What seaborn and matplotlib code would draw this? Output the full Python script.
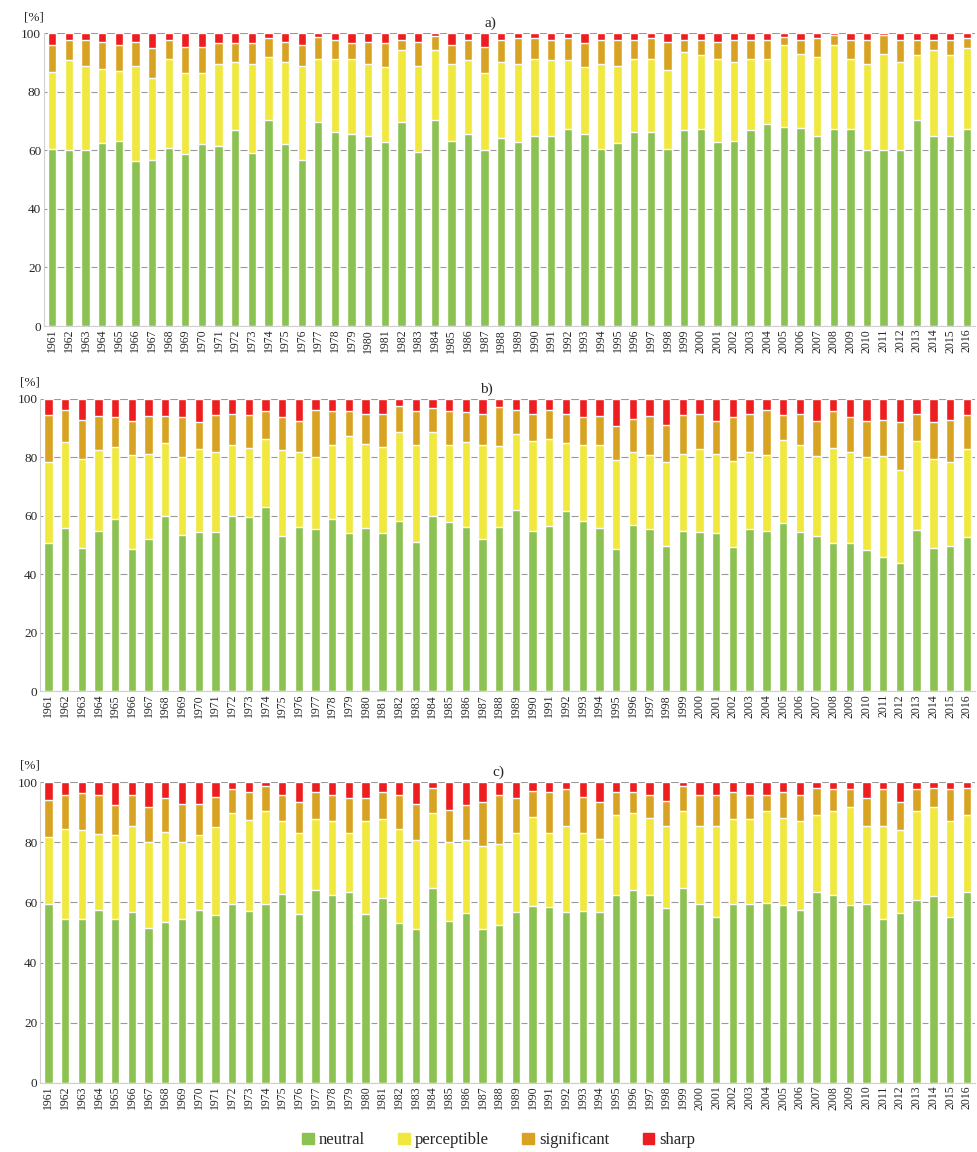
import numpy as np
import pandas as pd
import seaborn as sns
import matplotlib.pyplot as plt

years = [str(y) for y in range(1961, 2017)]
categories = ['neutral', 'perceptible', 'significant', 'sharp']
colors = ['#8cc251', '#f0e83c', '#d8a322', '#ee1d1f']

# panel a)
a_neutral = [60.6, 60.0, 60.0, 62.5, 63.4, 56.3, 56.6, 60.8, 58.9, 62.3, 61.5, 66.9, 59.0, 70.3,
             62.3, 56.6, 69.7, 66.3, 65.7, 65.1, 62.9, 69.7, 59.4, 70.3, 63.4, 65.7, 60.0, 64.3,
             62.9, 65.1, 65.1, 67.2, 65.7, 60.6, 62.5, 66.3, 66.3, 60.6, 67.0, 67.4, 62.9, 63.4,
             67.0, 69.1, 68.0, 67.7, 65.1, 67.4, 67.4, 60.0, 60.0, 60.0, 70.3, 64.8, 64.8, 67.4]
a_perceptible = [26.3, 31.0, 29.0, 25.5, 23.8, 32.5, 28.0, 30.6, 27.4, 24.0, 28.2, 23.4, 30.7, 21.7,
                 28.0, 32.4, 21.7, 25.1, 25.7, 24.6, 25.7, 24.6, 29.6, 24.0, 26.3, 25.2, 26.3, 26.0,
                 26.8, 26.3, 25.8, 23.7, 22.9, 29.1, 26.5, 25.1, 25.1, 26.8, 26.7, 25.2, 28.5, 26.9,
                 24.4, 22.3, 28.0, 25.4, 26.9, 28.6, 24.0, 29.7, 33.1, 30.3, 22.3, 29.5, 27.8, 27.5]
a_significant = [9.1, 6.7, 8.7, 9.0, 8.8, 8.2, 10.3, 6.3, 9.1, 9.1, 6.9, 6.3, 6.9, 6.3,
                 6.7, 7.0, 7.5, 6.3, 5.2, 7.3, 8.0, 3.4, 8.0, 4.7, 6.3, 6.8, 9.1, 7.4,
                 8.6, 6.9, 6.8, 7.4, 8.2, 8.0, 8.7, 6.3, 6.9, 9.6, 4.0, 5.1, 5.6, 7.4,
                 6.3, 6.3, 2.9, 4.6, 6.3, 3.4, 6.3, 8.0, 6.3, 7.4, 5.3, 3.6, 5.1, 3.4]
a_sharp = [4.0, 2.3, 2.3, 3.0, 4.0, 3.0, 5.1, 2.3, 4.6, 4.6, 3.4, 3.4, 3.4, 1.7,
           3.0, 4.0, 1.1, 2.3, 3.4, 3.0, 3.4, 2.3, 3.0, 1.0, 4.0, 2.3, 4.6, 2.3,
           1.7, 1.7, 2.3, 1.7, 3.2, 2.3, 2.3, 2.3, 1.7, 3.0, 2.3, 2.3, 3.0, 2.3,
           2.3, 2.3, 1.1, 2.3, 1.7, 0.6, 2.3, 2.3, 0.6, 2.3, 2.1, 2.1, 2.3, 1.7]

# panel b)
b_neutral = [50.7, 55.9, 48.8, 54.9, 58.9, 48.6, 51.9, 59.9, 53.4, 54.3, 54.3, 59.9, 59.7, 62.9,
             53.0, 56.0, 55.4, 58.9, 53.9, 55.7, 54.2, 58.2, 50.9, 59.9, 57.8, 56.0, 51.9, 56.0,
             61.9, 54.7, 56.5, 61.6, 58.2, 55.7, 48.5, 56.8, 55.3, 49.6, 54.7, 54.5, 54.2, 49.4,
             55.3, 54.9, 57.5, 54.5, 53.0, 50.7, 50.7, 48.2, 45.7, 43.7, 55.1, 48.8, 49.6, 52.8]
b_perceptible = [27.5, 29.1, 30.7, 27.4, 24.5, 32.2, 29.2, 24.9, 26.5, 28.4, 27.6, 24.3, 23.3, 23.4,
                 29.3, 25.6, 24.8, 25.2, 33.2, 28.9, 29.1, 30.3, 33.2, 28.8, 26.3, 29.0, 32.2, 27.7,
                 26.1, 30.9, 29.8, 23.1, 25.9, 28.4, 30.6, 25.0, 25.5, 28.8, 26.4, 28.4, 26.9, 29.3,
                 26.4, 25.9, 28.4, 29.6, 27.5, 32.4, 31.2, 31.8, 34.8, 32.0, 30.3, 30.5, 28.8, 30.1]
b_significant = [16.3, 11.2, 13.3, 11.9, 10.2, 11.4, 13.1, 9.4, 13.7, 9.3, 12.6, 10.7, 11.5, 9.4,
                 11.3, 10.6, 16.0, 11.6, 8.6, 10.1, 11.4, 8.9, 11.6, 8.1, 11.8, 10.3, 10.8, 13.3,
                 8.2, 9.3, 9.9, 10.2, 9.5, 9.8, 11.4, 11.2, 13.4, 12.7, 13.4, 12.0, 11.1, 14.9,
                 13.2, 15.2, 8.6, 10.6, 11.7, 12.6, 11.7, 12.2, 12.3, 16.3, 9.5, 12.7, 14.2, 11.6]
b_sharp = [5.5, 3.8, 7.2, 5.8, 6.4, 7.8, 5.8, 5.8, 6.4, 8.0, 5.5, 5.1, 5.5, 4.3,
           6.4, 7.8, 3.8, 4.3, 4.3, 5.3, 5.3, 2.6, 4.3, 3.2, 4.1, 4.7, 5.1, 3.0,
           3.8, 5.1, 3.8, 5.1, 6.4, 6.1, 9.5, 7.0, 5.8, 8.9, 5.5, 5.1, 7.8, 6.4,
           5.1, 4.0, 5.5, 5.3, 7.8, 4.3, 6.4, 7.8, 7.2, 8.0, 5.1, 8.0, 7.4, 5.5]

# panel c)
c_neutral = [59.4, 54.5, 54.5, 57.5, 54.5, 56.8, 51.5, 53.5, 54.5, 57.5, 55.8, 59.4, 57.1, 59.4,
             62.8, 56.1, 64.1, 62.4, 63.4, 56.1, 61.4, 53.1, 51.2, 64.8, 53.8, 56.5, 51.2, 52.5,
             56.8, 58.8, 58.5, 56.8, 57.1, 56.8, 62.4, 64.1, 62.4, 58.1, 64.8, 59.4, 55.1, 59.4,
             59.4, 59.8, 59.1, 57.5, 63.4, 62.4, 59.1, 59.4, 54.5, 56.5, 60.8, 62.1, 55.1, 63.4]
c_perceptible = [22.4, 29.8, 29.5, 25.2, 27.8, 28.8, 28.5, 30.1, 25.5, 24.8, 29.2, 30.2, 30.2, 30.9,
                 24.2, 26.9, 23.5, 24.6, 19.6, 30.9, 26.2, 31.5, 29.5, 25.1, 26.2, 24.2, 27.5, 26.8,
                 26.2, 29.5, 24.5, 28.5, 25.9, 24.2, 26.6, 25.5, 25.6, 27.5, 25.5, 26.2, 30.5, 28.2,
                 28.2, 30.5, 28.9, 29.5, 25.6, 27.9, 32.5, 26.2, 31.1, 27.5, 29.5, 29.5, 31.9, 25.6]
c_significant = [12.3, 11.6, 12.4, 12.9, 10.0, 10.3, 11.9, 11.0, 12.6, 10.3, 10.2, 8.0, 9.3, 8.3,
                 8.9, 10.3, 9.0, 8.9, 11.6, 7.6, 9.3, 11.0, 11.9, 8.3, 10.9, 11.6, 14.7, 16.3,
                 11.6, 8.9, 13.6, 12.3, 12.2, 12.4, 7.9, 7.3, 7.9, 8.3, 8.6, 10.0, 10.3, 9.0,
                 8.3, 5.6, 8.6, 8.6, 9.2, 7.3, 6.0, 9.0, 12.3, 9.3, 7.6, 6.6, 10.9, 9.2]
c_sharp = [5.9, 4.1, 3.6, 4.4, 7.7, 4.1, 8.1, 5.4, 7.4, 7.4, 4.8, 2.4, 3.4, 1.4,
           4.1, 6.7, 3.4, 4.1, 5.4, 5.4, 3.1, 4.4, 7.4, 1.8, 9.1, 7.7, 6.6, 4.4,
           5.4, 2.8, 3.4, 2.4, 4.8, 6.6, 3.1, 3.1, 4.1, 6.1, 1.1, 4.4, 4.1, 3.4,
           4.1, 4.1, 3.4, 4.4, 1.8, 2.4, 2.4, 5.4, 2.1, 6.7, 2.1, 1.8, 2.1, 1.8]

panels = [
    ('a)', [a_neutral, a_perceptible, a_significant, a_sharp], [0.045, 0.717, 0.952, 0.254], 0.479),
    ('b)', [b_neutral, b_perceptible, b_significant, b_sharp], [0.041, 0.400, 0.956, 0.254], 0.477),
    ('c)', [c_neutral, c_perceptible, c_significant, c_sharp], [0.041, 0.060, 0.956, 0.261], 0.490),
]

sns.set_style('white')
plt.rcParams['font.family'] = ['Liberation Serif', 'DejaVu Serif']

fig = plt.figure(figsize=(9.78, 11.52), dpi=100)

for title, series, rect, title_x in panels:
    ax = fig.add_axes(rect)
    df = pd.DataFrame({'year': years})
    cum = np.cumsum(np.array(series), axis=0)
    # draw from the top of the stack downwards so each segment shows
    for i in range(3, -1, -1):
        df['top'] = cum[i]
        sns.barplot(data=df, x='year', y='top', color=colors[i], width=0.5,
                    saturation=1, ax=ax, zorder=3, label=categories[i])
    ax.set_ylim(0, 100)
    ax.set_xlim(-0.5, len(years) - 0.5)
    ax.set_yticks([0, 20, 40, 60, 80, 100])
    ax.yaxis.grid(True, color='#9a9a9a', linewidth=0.8, zorder=0)
    ax.set_xlabel('')
    ax.set_ylabel('')
    ax.tick_params(axis='x', labelrotation=90, labelsize=8.5, pad=2, length=0)
    ax.tick_params(axis='y', labelsize=9.5, pad=2, length=0)
    for s in ['top', 'right']:
        ax.spines[s].set_visible(False)
    ax.spines['left'].set_color('#d0d0d0')
    ax.spines['bottom'].set_color('#d0d0d0')
    ax.text(-0.022, 1.035, '[%]', transform=ax.transAxes, fontsize=9.5, ha='left', va='bottom')
    ax.text(title_x, 1.01, title, transform=ax.transAxes, fontsize=11, ha='center', va='bottom')
    if ax.get_legend() is not None:
        ax.get_legend().remove()

handles = [plt.Rectangle((0, 0), 1, 1, color=c) for c in colors]
fig.legend(handles, categories, loc='center', bbox_to_anchor=(0.51, 0.01), ncol=4,
           frameon=False, fontsize=12, handlelength=0.7, handleheight=0.7,
           handletextpad=0.3, columnspacing=2.0)

fig.savefig('out.png', dpi=100)
